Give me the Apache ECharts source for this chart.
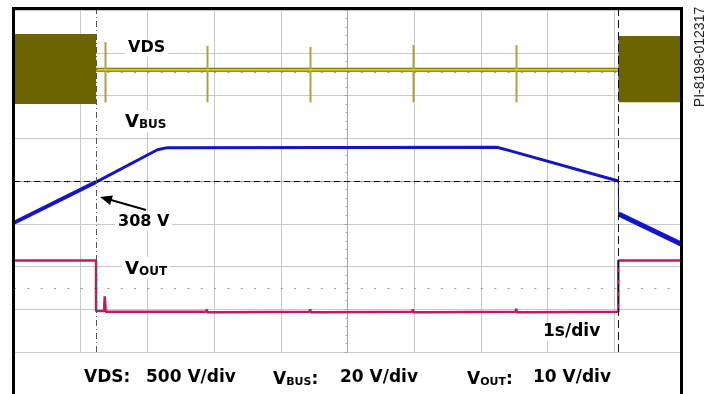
<!DOCTYPE html>
<html>
<head>
<meta charset="utf-8">
<script src="https://cdn.jsdelivr.net/npm/echarts@6/dist/echarts.min.js"></script>
<style>
  html, body { margin: 0; padding: 0; background: #fff; }
  #chart { width: 707px; height: 394px; }
</style>
</head>
<body>
<div id="chart"></div>
<script>
// time in seconds (1 s/div), voltages in volts
const vdsBursts = [[0, 1.23, 0, 820], [9.06, 10, 20, 795]]; // [start, end, low, high] switching envelope
const vdsIdle = [[1.23, 400], [9.06, 400]];
const vdsSpikes = [[1.364, 20, 725], [2.894, 20, 680], [4.438, 20, 667], [5.982, 20, 690], [7.526, 20, 690]];

const vbusCharge = [[0, 288.5], [1.23, 307.5]];
const vbusHold = [[1.23, 307.5], [2.15, 322.6], [2.3, 323.6], [7.24, 323.8], [7.43, 322.2], [9.06, 308]];
const vbusStep = [[9.06, 308], [9.065, 292.6]];
const vbusDrop = [[9.065, 292.6], [10, 278.5]];

const vout = [
  [0, 12], [1.23, 12], [1.23, 0.2], [1.35, 0.2], [1.36, 3.6], [1.375, 0],
  [2.88, 0], [2.89, 0.6], [2.9, -0.1], [3.1, -0.1], [3.11, 0],
  [4.43, 0], [4.44, 0.6], [4.45, -0.1], [4.65, -0.1], [4.66, 0],
  [5.97, 0], [5.98, 0.6], [5.99, -0.1], [6.19, -0.1], [6.2, 0],
  [7.52, 0], [7.53, 0.7], [7.54, -0.1], [7.74, -0.1], [7.75, 0],
  [9.06, 0], [9.06, 12], [10, 12]
];

const cursorTimes = [1.23, 9.06];
const busLevel = 308;
const markerLevels = [2.55, -2.5]; // screen divisions from centre

const FONT = '"DejaVu Sans", Verdana, sans-serif';
const chart = echarts.init(document.getElementById('chart'), null, { renderer: 'canvas' });

const hiddenY = (min, max) => ({ type: 'value', min, max, show: false });

function bandItem(params, api) {
  const p0 = api.coord([api.value(0), api.value(3)]);
  const p1 = api.coord([api.value(1), api.value(2)]);
  return {
    type: 'rect',
    shape: { x: p0[0], y: p0[1], width: p1[0] - p0[0], height: p1[1] - p0[1] },
    style: { fill: '#6b6400' }
  };
}

function spikeItem(params, api) {
  const a = api.coord([api.value(0), api.value(1)]);
  const b = api.coord([api.value(0), api.value(2)]);
  return {
    type: 'line',
    shape: { x1: Math.round(a[0]) + 0.5, y1: a[1], x2: Math.round(b[0]) + 0.5, y2: b[1] },
    style: { stroke: '#a9a24a', lineWidth: 2 }
  };
}

const label = (text, x, y, size) => ({
  type: 'text', x, y, z: 100,
  style: {
    text, font: 'bold ' + size + 'px ' + FONT, fill: '#000',
    verticalAlign: 'middle', backgroundColor: '#fff', padding: [1, 3]
  }
});

const subLabel = (main, sub, tail, x, y, size) => ({
  type: 'text', x, y, z: 100,
  style: {
    text: '{v|' + main + '}{s|' + sub + '}' + (tail ? '{v|' + tail + '}' : ''),
    verticalAlign: 'middle', backgroundColor: '#fff', padding: [1, 3],
    rich: {
      v: { font: 'bold ' + size + 'px ' + FONT, fill: '#000', lineHeight: 20, verticalAlign: 'bottom' },
      s: { font: 'bold ' + Math.round(size * 0.66) + 'px ' + FONT, fill: '#000', lineHeight: 12, verticalAlign: 'bottom' }
    }
  }
});

const gridAxis = (min, max) => ({
  type: 'value', min, max, interval: 1,
  axisLine: { onZero: true, onZeroAxisIndex: 0, lineStyle: { color: '#a8a8a8' } },
  axisTick: { show: true, length: 3, lineStyle: { color: '#a8a8a8' } },
  minorTick: { show: true, splitNumber: 5, length: 2, lineStyle: { color: '#a8a8a8' } },
  axisLabel: { show: false },
  splitLine: { show: true, lineStyle: { color: '#c8c8c8' } }
});

const option = {
  animation: false,
  backgroundColor: '#fff',
  grid: { left: 14, right: 26, top: 10, bottom: 42 },
  xAxis: [
    gridAxis(-5, 5),
    { type: 'value', min: 0, max: 10, show: false }
  ],
  yAxis: [
    gridAxis(-4, 4),
    hiddenY(-2900, 1100), // VDS 500 V/div
    hiddenY(228, 388),    // VBUS 20 V/div
    hiddenY(-9.4, 70.6)   // VOUT 10 V/div
  ],
  series: [
    {
      type: 'line', xAxisIndex: 0, yAxisIndex: 0, data: [], silent: true, z: 1,
      markLine: {
        silent: true, symbol: 'none', label: { show: false }, z: 1,
        lineStyle: { color: '#9a9a9a', width: 1, type: [2, 11.34] },
        data: markerLevels.map(v => ({ yAxis: v }))
      }
    },
    {
      name: 'VDS', type: 'custom', xAxisIndex: 1, yAxisIndex: 1,
      renderItem: bandItem, data: vdsBursts, encode: { x: [0, 1], y: [2, 3] }, z: 3
    },
    {
      type: 'line', xAxisIndex: 1, yAxisIndex: 1, data: vdsIdle, showSymbol: false,
      lineStyle: { color: '#6b6400', width: 4 }, z: 3
    },
    {
      type: 'line', xAxisIndex: 1, yAxisIndex: 1, data: vdsIdle, showSymbol: false,
      lineStyle: { color: '#ddd400', width: 2 }, z: 4
    },
    {
      type: 'custom', xAxisIndex: 1, yAxisIndex: 1,
      renderItem: spikeItem, data: vdsSpikes, encode: { x: 0, y: [1, 2] }, z: 4
    },
    {
      name: 'VBUS', type: 'line', xAxisIndex: 1, yAxisIndex: 2, data: vbusCharge, showSymbol: false,
      lineStyle: { color: '#1414c8', width: 4 }, z: 5
    },
    {
      type: 'line', xAxisIndex: 1, yAxisIndex: 2, data: vbusHold, showSymbol: false,
      lineStyle: { color: '#1414c8', width: 3 }, z: 5,
      markLine: {
        silent: true, symbol: 'none', label: { show: false }, z: 6,
        lineStyle: { color: '#111', width: 1, type: [6, 4] },
        data: [{ yAxis: busLevel }]
      }
    },
    {
      type: 'line', xAxisIndex: 1, yAxisIndex: 2, data: vbusStep, showSymbol: false,
      lineStyle: { color: '#1414c8', width: 1 }, z: 5
    },
    {
      type: 'line', xAxisIndex: 1, yAxisIndex: 2, data: vbusDrop, showSymbol: false,
      lineStyle: { color: '#1414c8', width: 5 }, z: 5
    },
    {
      name: 'VOUT', type: 'line', xAxisIndex: 1, yAxisIndex: 3, data: vout, showSymbol: false,
      lineStyle: { color: '#cc1464', width: 2.5 }, z: 5,
      markLine: {
        silent: true, symbol: 'none', label: { show: false }, z: 6,
        data: [
          { xAxis: cursorTimes[0], lineStyle: { color: '#555', width: 1, type: [6, 3, 1, 3] } },
          { xAxis: cursorTimes[1], lineStyle: { color: '#111', width: 1, type: [8, 4] } }
        ]
      }
    }
  ],
  graphic: [
    {
      type: 'polyline', z: 100,
      shape: { points: [[13.5, 394], [13.5, 8.5], [681.5, 8.5], [681.5, 394]] },
      style: { stroke: '#000', lineWidth: 3, fill: null }
    },
    label('VDS', 125, 48, 16),
    subLabel('V', 'BUS', '', 122, 121, 18),
    subLabel('V', 'OUT', '', 122, 268, 18),
    label('308 V', 115, 222, 16),
    label('1s/div', 540, 332, 17),
    {
      type: 'line', z: 100,
      shape: { x1: 146, y1: 210, x2: 111, y2: 200 },
      style: { stroke: '#000', lineWidth: 2 }
    },
    {
      type: 'polygon', z: 100,
      shape: { points: [[100, 197], [112.9, 195.5], [110.1, 205.1]] },
      style: { fill: '#000' }
    },
    label('VDS:', 81, 378, 17),
    label('500 V/div', 143, 378, 17),
    subLabel('V', 'BUS', ':', 270, 378, 17),
    label('20 V/div', 337, 378, 17),
    subLabel('V', 'OUT', ':', 464, 378, 17),
    label('10 V/div', 530, 378, 17),
    {
      type: 'text', x: 700, y: 57, rotation: Math.PI / 2, z: 100,
      style: {
        text: 'PI-8198-012317', font: '14px "Liberation Sans", Arial, sans-serif',
        fill: '#222', align: 'center', verticalAlign: 'middle'
      }
    }
  ]
};

chart.setOption(option);
</script>
</body>
</html>
